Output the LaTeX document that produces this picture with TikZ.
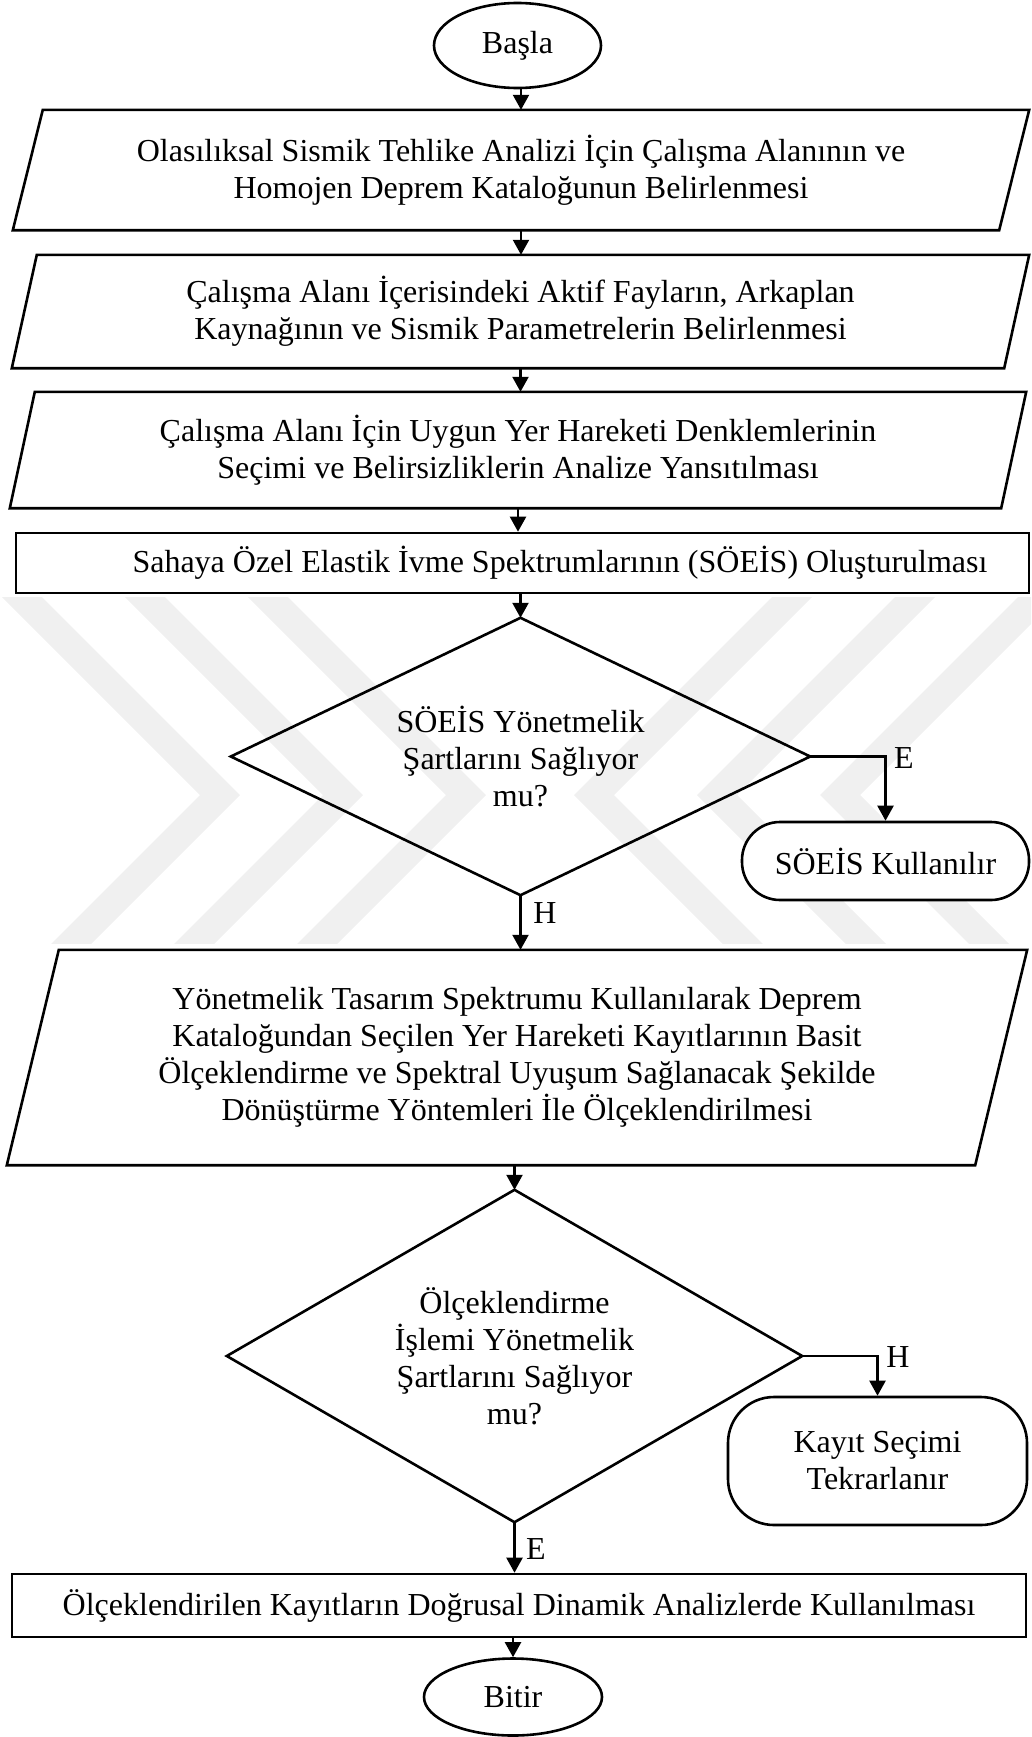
\documentclass[tikz,border=0pt]{standalone}
\usepackage{fontspec}
\setmainfont{Liberation Serif}
\usetikzlibrary{arrows.meta,shapes.geometric}
\pgfdeclarelayer{wmlayer}
\pgfdeclarelayer{bglayer}
\pgfsetlayers{wmlayer,bglayer,main}
\begin{document}
\begin{tikzpicture}[x=1pt,y=-1pt,
  txt/.style={font=\fontsize{32}{37}\selectfont, align=center, inner sep=0pt},
  shp/.style={draw=black, line width=2.6pt, fill=white},
  boxnode/.style={txt, draw=black, line width=2.6pt, fill=white},
  arr/.style={draw=black, line width=2.2pt, -{Triangle[length=15pt,width=16pt]}},
  lbl/.style={font=\fontsize{32}{37}\selectfont, inner sep=0pt},
  wm/.style={fill=black!6, draw=none}]
\useasboundingbox (0,0) rectangle (1031,1737);

% watermark
\begin{pgfonlayer}{wmlayer}
\begin{scope}
\clip (0,597) rectangle (1031,943);
\foreach \vx in {240,363,486} {
  \fill[wm] (\vx-235,560) -- (\vx,795) -- (\vx-185,980) -- (\vx-225,980) -- (\vx-40,795) -- (\vx-275,560) -- cycle;
}
\foreach \vx in {574,697,820} {
  \fill[wm] (\vx+235,560) -- (\vx,795) -- (\vx+185,980) -- (\vx+225,980) -- (\vx+40,795) -- (\vx+275,560) -- cycle;
}
\end{scope}
\end{pgfonlayer}

% nodes
\node[boxnode, ellipse, minimum width=167pt, minimum height=85pt] (basla) at (517.5,45.5) {Başla};

\node[txt, minimum width=1016pt, minimum height=120pt] (p1) at (521,170)
  {Olasılıksal Sismik Tehlike Analizi İçin Çalışma Alanının ve\\Homojen Deprem Kataloğunun Belirlenmesi};
\node[txt, minimum width=1017pt, minimum height=113pt] (p2) at (520.5,311.5)
  {Çalışma Alanı İçerisindeki Aktif Fayların, Arkaplan\\Kaynağının ve Sismik Parametrelerin Belirlenmesi};
\node[txt, minimum width=1016pt, minimum height=116pt] (p3) at (518,450)
  {Çalışma Alanı İçin Uygun Yer Hareketi Denklemlerinin\\Seçimi ve Belirsizliklerin Analize Yansıtılması};
\node[boxnode, minimum width=1013pt, minimum height=60pt] (r1) at (522.5,563)
  {\hspace*{75pt}Sahaya Özel Elastik İvme Spektrumlarının (SÖEİS) Oluşturulması};
\node[txt, minimum width=579pt, minimum height=277pt] (d1) at (520.5,756.5)
  {SÖEİS Yönetmelik\\Şartlarını Sağlıyor\\mu?};
\node[boxnode, rounded corners=38pt, minimum width=287pt, minimum height=78pt] (k1) at (885.5,861)
  {SÖEİS Kullanılır};
\node[txt, minimum width=1020pt, minimum height=215pt] (p4) at (517,1057.5)
  {Yönetmelik Tasarım Spektrumu Kullanılarak Deprem\\Kataloğundan Seçilen Yer Hareketi Kayıtlarının Basit\\Ölçeklendirme ve Spektral Uyuşum Sağlanacak Şekilde\\Dönüştürme Yöntemleri İle Ölçeklendirilmesi};
\node[txt, minimum width=575pt, minimum height=332pt] (d2) at (514.5,1356)
  {Ölçeklendirme\\İşlemi Yönetmelik\\Şartlarını Sağlıyor\\mu?};
\node[boxnode, rounded corners=46pt, minimum width=299pt, minimum height=128pt] (k2) at (877.5,1461)
  {Kayıt Seçimi\\Tekrarlanır};
\node[boxnode, minimum width=1014pt, minimum height=63pt] (r2) at (519,1605.5)
  {Ölçeklendirilen Kayıtların Doğrusal Dinamik Analizlerde Kullanılması};
\node[boxnode, ellipse, minimum width=178pt, minimum height=77pt] (bitir) at (513,1697) {Bitir};

% shapes behind text
\begin{pgfonlayer}{bglayer}
\draw[shp] ([xshift=30pt]p1.north west) -- (p1.north east) -- ([xshift=-30pt]p1.south east) -- (p1.south west) -- cycle;
\draw[shp] ([xshift=25pt]p2.north west) -- (p2.north east) -- ([xshift=-25pt]p2.south east) -- (p2.south west) -- cycle;
\draw[shp] ([xshift=25pt]p3.north west) -- (p3.north east) -- ([xshift=-25pt]p3.south east) -- (p3.south west) -- cycle;
\draw[shp] ([xshift=52pt]p4.north west) -- (p4.north east) -- ([xshift=-52pt]p4.south east) -- (p4.south west) -- cycle;
\draw[shp, fill=none] (d1.north) -- (d1.east) -- (d1.south) -- (d1.west) -- cycle;
\draw[shp, fill=none] (d2.north) -- (d2.east) -- (d2.south) -- (d2.west) -- cycle;
\end{pgfonlayer}

% connectors
\draw[arr] (p1.north |- basla.south) -- (p1.north);
\draw[arr] (p1.south) -- (p1.south |- p2.north);
\draw[arr] (p2.south) -- (p2.south |- p3.north);
\draw[arr] (p3.south) -- (p3.south |- r1.north);
\draw[arr] (d1.north |- r1.south) -- (d1.north);
\draw[arr] (d1.east) -| (k1.north);
\draw[arr] (d1.south) -- (d1.south |- p4.north);
\draw[arr] (d2.north |- p4.south) -- (d2.north);
\draw[arr] (d2.east) -| (k2.north);
\draw[arr] (d2.south) -- (d2.south |- r2.north);
\draw[arr] (bitir.north |- r2.south) -- (bitir.north);

% branch labels
\node[lbl] (lE1) at (904,758) {E};
\node[lbl] (lH1) at (545,913) {H};
\node[lbl] (lH2) at (898,1357) {H};
\node[lbl] (lE2) at (536,1549) {E};
\end{tikzpicture}
\end{document}
